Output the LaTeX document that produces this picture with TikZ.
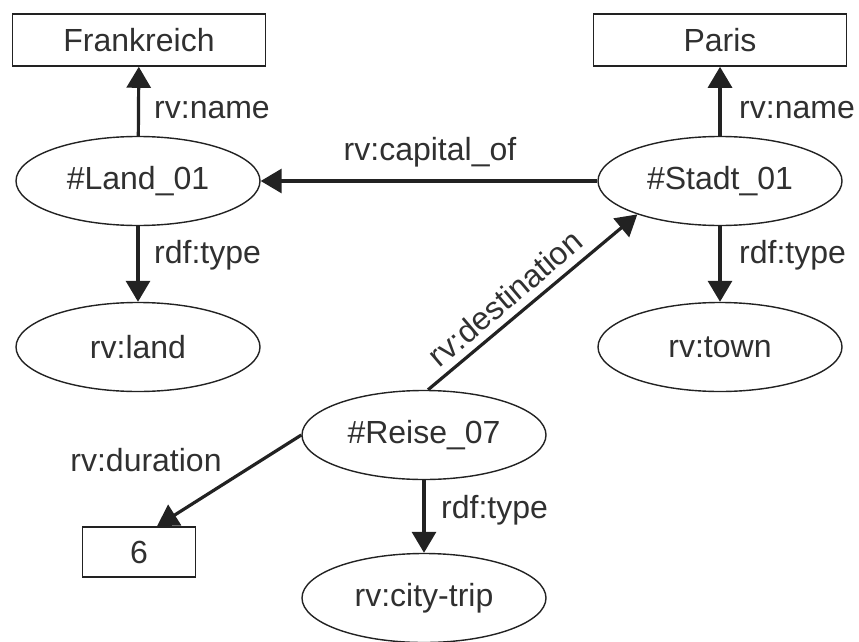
\documentclass[tikz,border=0pt]{standalone}
\usepackage{fontspec}
\setmainfont{Liberation Sans}
\usetikzlibrary{arrows.meta,shapes.geometric,calc}
\definecolor{ink}{HTML}{222222}
\definecolor{txt}{HTML}{303030}
\tikzset{
  every node/.style={text=txt, font=\fontsize{32}{38}\selectfont},
  res/.style={draw=ink, line width=1.4pt, ellipse, minimum width=244pt, minimum height=89pt, inner sep=0pt},
  lit/.style={draw=ink, line width=1.6pt, rectangle, minimum height=52pt, inner sep=0pt},
  rel/.style={draw=ink, line width=3.2pt, -{Triangle[length=21pt,width=24pt]}},
  lbl/.style={inner sep=0pt}
}
\begin{document}
\begin{tikzpicture}[x=1pt,y=-1pt]
\useasboundingbox (0,0) rectangle (859,642);
\node[lit, minimum width=253pt] (frank) at (139,40) {Frankreich};
\node[lit, minimum width=253pt] (paris) at (720,40) {Paris};
\node[res] (land) at (138,181) {\#Land\_01};
\node[res] (stadt) at (720,181) {\#Stadt\_01};
\node[res] (rvland) at (138,347) {rv:land};
\node[res] (town) at (720,347) {rv:town};
\node[res] (reise) at (424,435) {\#Reise\_07};
\node[lit, minimum width=113pt, minimum height=50pt] (six) at (139,552) {6};
\node[res] (trip) at (424,598) {rv:city-trip};

\draw[rel] (land) -- (frank);
\draw[rel] (land) -- (rvland);
\draw[rel] (stadt) -- (paris);
\draw[rel] (stadt) -- (town);
\draw[rel] (stadt) -- (land);
\draw[rel] (reise) -- (trip);
\draw[rel] (reise.west) -- ($(six.north)+(18,0)$);
\draw[rel] ($(reise.north)+(4,0)$) -- (stadt.202);

\node[lbl, anchor=west] (l1) at (154,110) {rv:name};
\node[lbl, anchor=west] (l2) at (154,255) {rdf:type};
\node[lbl, anchor=west] (l3) at (739,110) {rv:name};
\node[lbl, anchor=west] (l4) at (739,255) {rdf:type};
\node[lbl] (l5) at (430,152) {rv:capital\_of};
\node[lbl] (l6) at (146,460) {rv:duration};
\node[lbl, anchor=west] (l7) at (441,510) {rdf:type};
\node[lbl, rotate=40.4] (l8) at (505,298) {rv:destination};
\end{tikzpicture}
\end{document}
